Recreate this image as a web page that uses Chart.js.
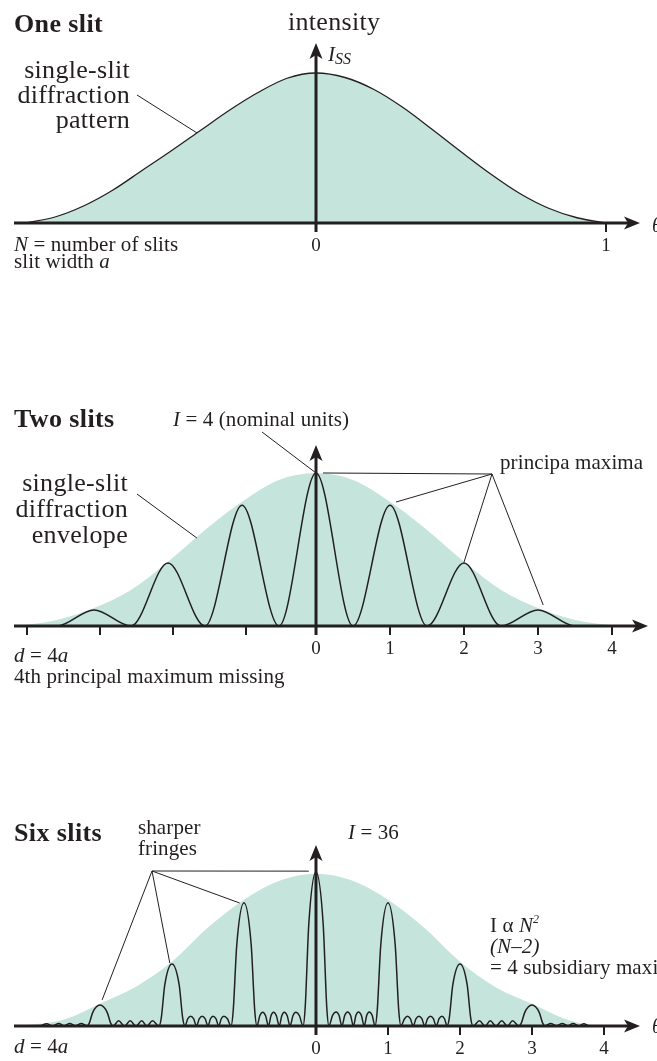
<!DOCTYPE html>
<html>
<head>
<meta charset="utf-8">
<script src="https://cdn.jsdelivr.net/npm/chart.js@4.4.1/dist/chart.umd.min.js"></script>
<style>
  html, body { margin: 0; padding: 0; background: #fff; }
  #page { position: relative; width: 657px; height: 1061px; overflow: hidden;
          font-family: "Liberation Serif", "Times New Roman", serif; color: #231f20; }
  canvas { position: absolute; left: 0; }
  .t { position: absolute; white-space: nowrap; line-height: 1; }
  .r { transform: translateX(-100%); }
  .b { font-weight: bold; }
  .sub { font-size: 16px; position: relative; top: 3px; font-style: italic; }
  .sup { font-size: 12px; position: relative; top: -9px; font-style: italic; }
</style>
</head>
<body>
<div id="page">
  <canvas id="c1" width="657" height="300" style="top:0"></canvas>
  <canvas id="c2" width="657" height="340" style="top:360px"></canvas>
  <canvas id="c3" width="657" height="291" style="top:770px"></canvas>
</div>
<script>
// ---- One slit: single-slit diffraction pattern (peak = I_SS = 1) ----
const oneSlitTicks = [0, 1];
const oneSlitTickLabels = ['0', '1'];
const envelope1X = [-1.0, -0.9, -0.8, -0.7, -0.6, -0.5, -0.4, -0.3, -0.2, -0.1, 0, 0.1, 0.2, 0.3, 0.4, 0.5, 0.6, 0.7, 0.8, 0.9, 1.0];
const envelope1Y = [0, 0.04, 0.115, 0.22, 0.35, 0.48, 0.615, 0.75, 0.87, 0.965, 1.0, 0.97, 0.89, 0.77, 0.625, 0.475, 0.33, 0.2, 0.1, 0.035, 0];

// ---- Two slits (d = 4a), I = 4 at the centre ----
const twoSlitTicks = [-3.9, -2.92, -1.93, -0.95, 0, 1, 2, 3, 4];
const twoSlitTickLabels = ['', '', '', '', '0', '1', '2', '3', '4'];
const envelope2X = [-4.05, -3.5, -3, -2.5, -2, -1.5, -1, -0.5, 0, 0.5, 1, 1.5, 2, 2.5, 3, 3.5, 4.07];
const envelope2Y = [0, 0.16, 0.47, 0.94, 1.68, 2.51, 3.25, 3.82, 4, 3.82, 3.25, 2.51, 1.68, 0.94, 0.47, 0.16, 0];
const twoSlitX = [-4.1, -3.5, -3, -2.5, -2, -1.5, -1, -0.5, 0, 0.5, 1, 1.5, 2, 2.5, 3, 3.5, 4.2];
const twoSlitY = [0, 0, 0.42, 0, 1.65, 0, 3.16, 0, 4, 0, 3.16, 0, 1.65, 0, 0.42, 0, 0];

// ---- Six slits (d = 4a), I = 36 at the centre ----
const sixSlitTicks = [0, 1, 2, 3, 4];
const sixSlitTickLabels = ['0', '1', '2', '3', '4'];
const envelope3X = [-4.1, -3.5, -3, -2.5, -2, -1.5, -1, -0.5, 0, 0.5, 1, 1.5, 2, 2.5, 3, 3.5, 3.9];
const envelope3Y = [0, 1.5, 5.2, 9.2, 15, 23, 29.5, 34, 35.6, 34, 29.5, 23, 15, 9, 5.2, 1.4, 0];
const sixSlitX = [
  -4.15, -3.85,
  -3.74, -3.66, -3.57, -3.5, -3.42, -3.34, -3.26,
  -3.18, -3.15, -3.1, -3.0, -2.9, -2.85, -2.82,
  -2.74, -2.66, -2.58, -2.5, -2.42, -2.35, -2.27,
  -2.18, -2.15, -2.1, -2.0, -1.9, -1.85, -1.82,
  -1.78, -1.74, -1.70, -1.66, -1.62, -1.58, -1.54, -1.5, -1.465, -1.43, -1.39, -1.35, -1.315, -1.28, -1.23,
  -1.18, -1.15, -1.1, -1.0, -0.9, -0.85, -0.82,
  -0.78, -0.74, -0.70, -0.66, -0.625, -0.59, -0.55, -0.51, -0.475, -0.44, -0.4, -0.36, -0.32, -0.28, -0.23,
  -0.18, -0.15, -0.1, 0, 0.1, 0.15, 0.18,
  0.23, 0.28, 0.32, 0.36, 0.40, 0.44, 0.48, 0.52, 0.555, 0.59, 0.63, 0.67, 0.705, 0.74, 0.78,
  0.82, 0.85, 0.9, 1.0, 1.1, 1.15, 1.18,
  1.23, 1.27, 1.31, 1.35, 1.39, 1.43, 1.47, 1.51, 1.55, 1.59, 1.63, 1.67, 1.71, 1.75, 1.785,
  1.82, 1.85, 1.9, 2.0, 2.1, 2.15, 2.18,
  2.27, 2.35, 2.42, 2.5, 2.58, 2.66, 2.73,
  2.82, 2.85, 2.9, 3.0, 3.1, 3.15, 3.18,
  3.26, 3.34, 3.42, 3.5, 3.57, 3.65, 3.72, 3.8, 4.4
];
const sixSlitY = [
  0, 0,
  0.5, 0, 0.6, 0, 0.6, 0, 0.6,
  0, 0.6, 3.2, 4.9, 3.2, 0.6, 0,
  1.2, 0, 1.2, 0, 1.2, 0, 1.2,
  0, 1.7, 9.6, 14.5, 9.6, 1.7, 0,
  1.7, 2.3, 1.7, 0, 1.7, 2.3, 1.7, 0, 1.7, 2.3, 1.7, 0, 1.7, 2.3, 1.7,
  0, 3.5, 19, 28.8, 19, 3.5, 0,
  2.4, 3.2, 2.4, 0, 2.4, 3.2, 2.4, 0, 2.4, 3.2, 2.4, 0, 2.4, 3.2, 2.4,
  0, 4.3, 23.8, 36, 23.8, 4.3, 0,
  2.5, 3.3, 2.5, 0, 2.5, 3.3, 2.5, 0, 2.5, 3.3, 2.5, 0, 2.5, 3.3, 2.5,
  0, 3.5, 19, 28.8, 19, 3.5, 0,
  1.7, 2.3, 1.7, 0, 1.7, 2.3, 1.7, 0, 1.7, 2.3, 1.7, 0, 1.7, 2.3, 1.7,
  0, 1.7, 9.6, 14.5, 9.6, 1.7, 0,
  1.2, 0, 1.2, 0, 1.2, 0, 1.2,
  0, 0.6, 3.2, 4.9, 3.2, 0.6, 0,
  0.6, 0, 0.6, 0, 0.6, 0, 0.5, 0, 0
];

const INK = '#231f20';
const TEAL = '#c4e4dc';
const FONT = '"Liberation Serif", "Times New Roman", serif';

const pts = (xs, ys) => xs.map((x, i) => ({ x, y: ys[i] }));

function arrowHead(ctx, x, y, dir) {
  const L = 16, W = 6.5, N = 4;
  ctx.beginPath();
  if (dir === 'right') {
    ctx.moveTo(x, y);
    ctx.lineTo(x - L, y - W);
    ctx.lineTo(x - L + N, y);
    ctx.lineTo(x - L, y + W);
  } else {
    ctx.moveTo(x, y);
    ctx.lineTo(x - W, y + L);
    ctx.lineTo(x, y + L - N);
    ctx.lineTo(x + W, y + L);
  }
  ctx.closePath();
  ctx.fill();
}

// axes with arrowheads and leader lines from labels to the curves
const decor = {
  id: 'decor',
  afterDraw(chart, args, opts) {
    const { ctx, chartArea: a, scales: { x, y } } = chart;
    const y0 = y.getPixelForValue(0);
    const x0 = x.getPixelForValue(0);
    ctx.save();
    ctx.fillStyle = INK;
    ctx.strokeStyle = INK;
    ctx.lineWidth = 3;
    ctx.beginPath();
    ctx.moveTo(a.left, y0);
    ctx.lineTo(a.right - 10, y0);
    ctx.moveTo(x0, y0 + 9);
    ctx.lineTo(x0, a.top + 10);
    ctx.stroke();
    arrowHead(ctx, a.right, y0, 'right');
    arrowHead(ctx, x0, a.top, 'up');
    ctx.lineWidth = 1;
    (opts.leaders || []).forEach(l => {
      ctx.beginPath();
      ctx.moveTo(l.from[0], l.from[1]);
      ctx.lineTo(x.getPixelForValue(l.to[0]), y.getPixelForValue(l.to[1]));
      ctx.stroke();
    });
    ctx.restore();
  }
};

function makeChart(id, cfg) {
  return new Chart(document.getElementById(id), {
    type: 'line',
    data: { datasets: cfg.datasets },
    plugins: [decor],
    options: {
      responsive: false,
      animation: false,
      devicePixelRatio: 1,
      layout: { padding: cfg.padding },
      elements: { point: { radius: 0 }, line: { cubicInterpolationMode: 'monotone' } },
      plugins: { legend: { display: false }, tooltip: { enabled: false }, decor: { leaders: cfg.leaders } },
      scales: {
        x: {
          type: 'linear', min: cfg.xMin, max: cfg.xMax, z: 1,
          afterFit(s) { s.height = 30; },
          afterBuildTicks(s) { s.ticks = cfg.ticks.map(v => ({ value: v })); },
          grid: { display: true, drawOnChartArea: false, drawTicks: true, tickLength: 9, lineWidth: 2, color: INK },
          border: { display: false },
          ticks: {
            autoSkip: false, maxRotation: 0, padding: 3, color: INK,
            font: { family: FONT, size: 19 },
            callback: (v, i) => cfg.tickLabels[i]
          }
        },
        y: { display: false, min: 0, max: cfg.yMax }
      }
    }
  });
}

makeChart('c1', {
  padding: { left: 14, right: 17, top: 43, bottom: 47 },
  xMin: -1.0414, xMax: 1.1172, yMax: 1.2,
  ticks: oneSlitTicks, tickLabels: oneSlitTickLabels,
  datasets: [{
    data: pts(envelope1X, envelope1Y), borderColor: INK, borderWidth: 1.3,
    backgroundColor: TEAL, fill: 'origin'
  }],
  leaders: [{ from: [137, 95], to: [-0.41, 0.6] }]
});

makeChart('c2', {
  padding: { left: 14, right: 9, top: 85, bottom: 44 },
  xMin: -4.081, xMax: 4.486, yMax: 4.732,
  ticks: twoSlitTicks, tickLabels: twoSlitTickLabels,
  datasets: [
    { data: pts(twoSlitX, twoSlitY), borderColor: INK, borderWidth: 1.5, fill: false, order: 0 },
    { data: pts(envelope2X, envelope2Y), borderWidth: 0, borderColor: 'rgba(0,0,0,0)',
      backgroundColor: TEAL, fill: 'origin', order: 1 }
  ],
  leaders: [
    { from: [262, 72], to: [0, 4] },
    { from: [137, 134], to: [-1.61, 2.3] },
    { from: [492, 114], to: [0.095, 4] },
    { from: [492, 114], to: [1.08, 3.24] },
    { from: [492, 114], to: [2.0, 1.67] },
    { from: [492, 114], to: [3.07, 0.55] }
  ]
});

makeChart('c3', {
  padding: { left: 14, right: 17, top: 75, bottom: 5 },
  xMin: -4.194, xMax: 4.5, yMax: 42.31,
  ticks: sixSlitTicks, tickLabels: sixSlitTickLabels,
  datasets: [
    { data: pts(sixSlitX, sixSlitY), borderColor: INK, borderWidth: 1.5, fill: false, order: 0 },
    { data: pts(envelope3X, envelope3Y), borderWidth: 0, borderColor: 'rgba(0,0,0,0)',
      backgroundColor: TEAL, fill: 'origin', order: 1 }
  ],
  leaders: [
    { from: [152, 101], to: [-0.1, 36.2] },
    { from: [152, 101], to: [-1.06, 28.75] },
    { from: [152, 101], to: [-2.03, 14.7] },
    { from: [152, 101], to: [-2.97, 6.1] }
  ]
});

// text annotations: x = left edge (or right edge for .r), b = baseline
const texts = [
  { h: 'One slit', x: 14, b: 33, s: 26, c: 'b', ls: 0.4 },
  { h: 'intensity', x: 288, b: 31, s: 26, ls: 0.3 },
  { h: '<i>I</i><span class="sub">SS</span>', x: 328, b: 62, s: 21 },
  { h: 'single-slit', x: 130, b: 79, s: 26, c: 'r', ls: 0.3 },
  { h: 'diffraction', x: 130, b: 104, s: 26, c: 'r', ls: 0.3 },
  { h: 'pattern', x: 130, b: 129, s: 26, c: 'r', ls: 0.3 },
  { h: '<i>N</i> = number of slits', x: 14, b: 252, s: 21, ls: 0.1 },
  { h: 'slit width <i>a</i>', x: 14, b: 269, s: 21, ls: 0.1 },
  { h: '<i>θ</i>', x: 652, b: 232, s: 20 },

  { h: 'Two slits', x: 14, b: 428, s: 26, c: 'b', ls: 0.4 },
  { h: '<i>I</i> = 4 (nominal units)', x: 173, b: 427, s: 21, ls: 0.1 },
  { h: 'single-slit', x: 128, b: 492, s: 26, c: 'r', ls: 0.3 },
  { h: 'diffraction', x: 128, b: 518, s: 26, c: 'r', ls: 0.3 },
  { h: 'envelope', x: 128, b: 544, s: 26, c: 'r', ls: 0.3 },
  { h: 'principa maxima', x: 500, b: 470, s: 21, ls: 0.1 },
  { h: '<i>d</i> = 4<i>a</i>', x: 14, b: 663, s: 21, ls: 0.1 },
  { h: '4th principal maximum missing', x: 14, b: 684, s: 21, ls: 0.1 },

  { h: 'Six slits', x: 14, b: 842, s: 26, c: 'b', ls: 0.4 },
  { h: 'sharper', x: 138, b: 835, s: 21, ls: 0.1 },
  { h: 'fringes', x: 138, b: 856, s: 21, ls: 0.1 },
  { h: '<i>I</i> = 36', x: 348, b: 840, s: 21, ls: 0.1 },
  { h: 'I α <i>N</i><span class="sup">2</span>', x: 490, b: 933, s: 21, ls: 0.1 },
  { h: '<i>(N–2)</i>', x: 490, b: 954, s: 21, ls: 0.1 },
  { h: '= 4 subsidiary maxima', x: 490, b: 975, s: 21, ls: 0.1 },
  { h: '<i>d</i> = 4<i>a</i>', x: 14, b: 1054, s: 21, ls: 0.1 },
  { h: '<i>θ</i>', x: 652, b: 1033, s: 20 }
];
const page = document.getElementById('page');
texts.forEach(t => {
  const d = document.createElement('div');
  d.className = 't' + (t.c ? ' ' + t.c : '');
  d.innerHTML = t.h;
  d.style.fontSize = t.s + 'px';
  if (t.ls) d.style.letterSpacing = t.ls + 'px';
  d.style.left = t.x + 'px';
  d.style.top = (t.b - 0.8375 * t.s) + 'px';
  page.appendChild(d);
});
</script>
</body>
</html>
